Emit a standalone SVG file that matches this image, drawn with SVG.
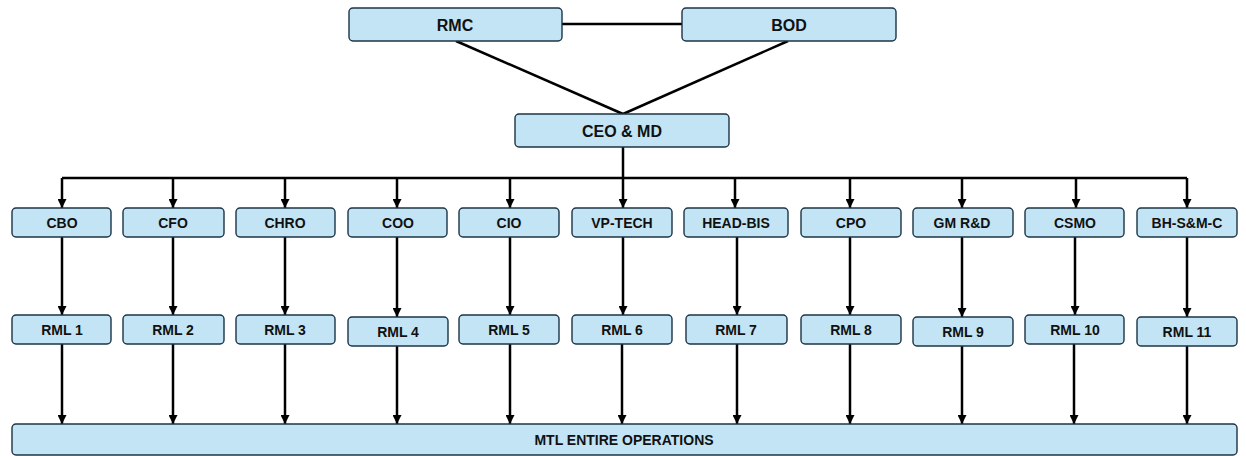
<svg xmlns="http://www.w3.org/2000/svg" width="1246" height="456" viewBox="0 0 1246 456">
  <style>
    .box { fill: #c2e4f4; stroke: #1c3446; stroke-width: 1.4; }
    .lbl { font-family: "Liberation Sans", Arial, sans-serif; font-weight: bold; font-size: 14px; fill: #111; text-anchor: middle; dominant-baseline: central; }
    .big { font-size: 16px; }
    .wire { stroke: #000; stroke-width: 2.5; fill: none; }
    .arr { marker-end: url(#head); }
  </style>
  <defs>
    <marker id="head" markerUnits="userSpaceOnUse" markerWidth="9" markerHeight="9" viewBox="0 0 10 10" refX="10" refY="5" orient="auto">
      <path d="M0,0 L10,5 L0,10 z" fill="#000"/>
    </marker>
  </defs>

  <!-- connectors -->
  <g id="connectors">
    <line class="wire" x1="562" y1="24" x2="682" y2="24"/>
    <line class="wire" x1="456" y1="41" x2="623" y2="114"/>
    <line class="wire" x1="788" y1="41" x2="623" y2="114"/>
    <line class="wire" x1="623" y1="147" x2="623" y2="178"/>
    <line class="wire" x1="62" y1="178" x2="1187" y2="178"/>
    <!-- drops to executives -->
    <line class="wire arr" x1="62" y1="178" x2="62" y2="208"/>
    <line class="wire arr" x1="173" y1="178" x2="173" y2="208"/>
    <line class="wire arr" x1="285" y1="178" x2="285" y2="208"/>
    <line class="wire arr" x1="397" y1="178" x2="397" y2="208"/>
    <line class="wire arr" x1="510" y1="178" x2="510" y2="208"/>
    <line class="wire arr" x1="623" y1="178" x2="623" y2="208"/>
    <line class="wire arr" x1="735" y1="178" x2="735" y2="208"/>
    <line class="wire arr" x1="850" y1="178" x2="850" y2="208"/>
    <line class="wire arr" x1="962" y1="178" x2="962" y2="208"/>
    <line class="wire arr" x1="1076" y1="178" x2="1076" y2="208"/>
    <line class="wire arr" x1="1187" y1="178" x2="1187" y2="208"/>
    <!-- executives to RML -->
    <line class="wire arr" x1="62" y1="237" x2="62" y2="315"/>
    <line class="wire arr" x1="173" y1="237" x2="173" y2="315"/>
    <line class="wire arr" x1="285" y1="237" x2="285" y2="315"/>
    <line class="wire arr" x1="397" y1="237" x2="397" y2="317"/>
    <line class="wire arr" x1="510" y1="237" x2="510" y2="315"/>
    <line class="wire arr" x1="623" y1="237" x2="623" y2="315"/>
    <line class="wire arr" x1="737" y1="237" x2="737" y2="315"/>
    <line class="wire arr" x1="850" y1="237" x2="850" y2="315"/>
    <line class="wire arr" x1="962" y1="237" x2="962" y2="317"/>
    <line class="wire arr" x1="1075" y1="237" x2="1075" y2="315"/>
    <line class="wire arr" x1="1187" y1="237" x2="1187" y2="317"/>
    <!-- RML to operations -->
    <line class="wire arr" x1="62" y1="344" x2="62" y2="424"/>
    <line class="wire arr" x1="173" y1="344" x2="173" y2="424"/>
    <line class="wire arr" x1="285" y1="344" x2="285" y2="424"/>
    <line class="wire arr" x1="397" y1="346" x2="397" y2="424"/>
    <line class="wire arr" x1="510" y1="344" x2="510" y2="424"/>
    <line class="wire arr" x1="622" y1="344" x2="622" y2="424"/>
    <line class="wire arr" x1="737" y1="344" x2="737" y2="424"/>
    <line class="wire arr" x1="850" y1="344" x2="850" y2="424"/>
    <line class="wire arr" x1="962" y1="346" x2="962" y2="424"/>
    <line class="wire arr" x1="1074" y1="344" x2="1074" y2="424"/>
    <line class="wire arr" x1="1187" y1="346" x2="1187" y2="424"/>
  </g>

  <!-- governance -->
  <g id="rmc"><rect class="box" x="349" y="8" width="213" height="33" rx="4"/><text class="lbl big" x="455" y="25">RMC</text></g>
  <g id="bod"><rect class="box" x="682" y="8" width="214" height="33" rx="4"/><text class="lbl big" x="789" y="25">BOD</text></g>
  <g id="ceo"><rect class="box" x="515" y="114" width="214" height="33" rx="4"/><text class="lbl big" x="622" y="131">CEO &amp; MD</text></g>

  <!-- executives -->
  <g id="cbo"><rect class="box" x="12" y="208" width="99" height="29" rx="4"/><text class="lbl" x="62" y="223">CBO</text></g>
  <g id="cfo"><rect class="box" x="123" y="208" width="101" height="29" rx="4"/><text class="lbl" x="173" y="223">CFO</text></g>
  <g id="chro"><rect class="box" x="236" y="208" width="99" height="29" rx="4"/><text class="lbl" x="285" y="223">CHRO</text></g>
  <g id="coo"><rect class="box" x="348" y="208" width="99" height="29" rx="4"/><text class="lbl" x="398" y="223">COO</text></g>
  <g id="cio"><rect class="box" x="459" y="208" width="100" height="29" rx="4"/><text class="lbl" x="509" y="223">CIO</text></g>
  <g id="vp-tech"><rect class="box" x="572" y="208" width="100" height="29" rx="4"/><text class="lbl" x="622" y="223">VP-TECH</text></g>
  <g id="head-bis"><rect class="box" x="684" y="208" width="104" height="29" rx="4"/><text class="lbl" x="736" y="223">HEAD-BIS</text></g>
  <g id="cpo"><rect class="box" x="801" y="208" width="100" height="29" rx="4"/><text class="lbl" x="851" y="223">CPO</text></g>
  <g id="gm-rnd"><rect class="box" x="913" y="208" width="100" height="29" rx="4"/><text class="lbl" x="962" y="223">GM R&amp;D</text></g>
  <g id="csmo"><rect class="box" x="1025" y="208" width="99" height="29" rx="4"/><text class="lbl" x="1075" y="223">CSMO</text></g>
  <g id="bh-smc"><rect class="box" x="1137" y="208" width="100" height="29" rx="4"/><text class="lbl" x="1187" y="223">BH-S&amp;M-C</text></g>

  <!-- risk management leads -->
  <g id="rml1"><rect class="box" x="12" y="315" width="99" height="29" rx="4"/><text class="lbl" x="62" y="330">RML 1</text></g>
  <g id="rml2"><rect class="box" x="123" y="315" width="101" height="29" rx="4"/><text class="lbl" x="173" y="330">RML 2</text></g>
  <g id="rml3"><rect class="box" x="236" y="315" width="99" height="29" rx="4"/><text class="lbl" x="285" y="330">RML 3</text></g>
  <g id="rml4"><rect class="box" x="348" y="317" width="100" height="29" rx="4"/><text class="lbl" x="398" y="332">RML 4</text></g>
  <g id="rml5"><rect class="box" x="459" y="315" width="100" height="29" rx="4"/><text class="lbl" x="509" y="330">RML 5</text></g>
  <g id="rml6"><rect class="box" x="572" y="315" width="100" height="29" rx="4"/><text class="lbl" x="622" y="330">RML 6</text></g>
  <g id="rml7"><rect class="box" x="686" y="315" width="101" height="29" rx="4"/><text class="lbl" x="736" y="330">RML 7</text></g>
  <g id="rml8"><rect class="box" x="801" y="315" width="100" height="29" rx="4"/><text class="lbl" x="851" y="330">RML 8</text></g>
  <g id="rml9"><rect class="box" x="913" y="317" width="100" height="29" rx="4"/><text class="lbl" x="963" y="332">RML 9</text></g>
  <g id="rml10"><rect class="box" x="1025" y="315" width="99" height="29" rx="4"/><text class="lbl" x="1075" y="330">RML 10</text></g>
  <g id="rml11"><rect class="box" x="1137" y="317" width="100" height="29" rx="4"/><text class="lbl" x="1187" y="332">RML 11</text></g>

  <!-- operations -->
  <g id="operations"><rect class="box" x="12" y="424" width="1225" height="31" rx="4"/><text class="lbl" x="624" y="440">MTL ENTIRE OPERATIONS</text></g>
</svg>
